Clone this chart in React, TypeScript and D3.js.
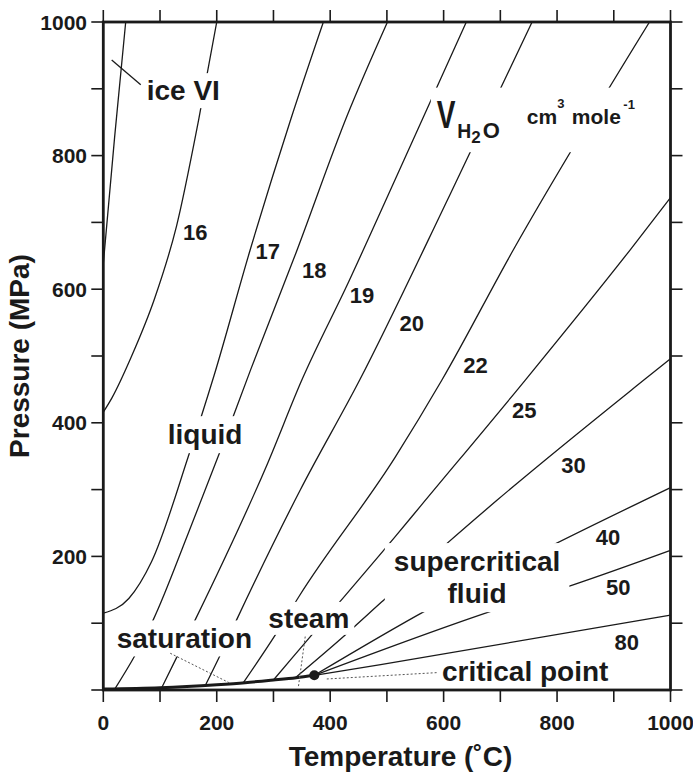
import { useEffect, useRef } from "react";
import * as d3 from "d3";

const W = 693;
const H = 773;
const FONT = "'Liberation Sans', Arial, Helvetica, sans-serif";
const INK = "#1a1a1a";

// all points are [temperature °C, pressure MPa]
const saturation = [[0, 1.5], [100, 3.5], [200, 8], [250, 11], [300, 15], [340, 18.5], [372, 22]];
const criticalPoint = [372, 22];
const iceVI = [[0, 638], [20, 828], [39.5, 1000]];

const iso16 = [[0, 416], [15, 437], [50, 500], [90, 585], [129, 694], [168, 853], [200, 1000]];
const iso17 = [[0, 115], [45, 137], [85, 192], [150, 350], [195, 470], [259, 659], [330, 853], [388, 1000]];
const iso18 = [[21, 2.5], [56, 52], [88, 105], [150, 235], [205, 355], [260, 480], [340, 655], [430, 860], [501, 1000]];
const iso19 = [[103, 3.5], [130, 50], [162, 105], [290, 340], [350, 464], [432, 610], [515, 765], [640, 1000]];
const iso20 = [[180, 7], [206, 52], [235, 105], [347, 299], [452, 464], [612, 743], [756, 1000]];
const iso22 = [[247, 11], [303, 82], [345, 140], [515, 349], [597, 464], [723, 659], [963, 1000]];
const iso25 = [[300, 15], [365, 80], [418, 133], [515, 230], [560, 276], [744, 464], [929, 659], [1000, 737]];
const iso30 = [[338, 18], [426, 82], [491, 132], [600, 215], [694, 284], [953, 464], [1000, 496]];
const iso40 = [[372, 22], [571, 120], [788, 215], [1000, 303]];
const iso50 = [[372, 22], [691, 120], [827, 157], [1000, 209]];
const iso80 = [[372, 22], [489, 38], [1000, 112]];

const isoNames = ["16", "17", "18", "19", "20", "22", "25", "30", "40", "50", "80"];
const isoLabelPos = [[162, 686], [290, 657], [372, 629], [456, 591], [544, 549], [656, 487], [742, 419], [829, 337], [890, 229], [908, 154], [923, 72]];

const iceLeader = [[14.8, 943], [66, 906]];
const satLeader = [[118, 55], [224, 10]];
const steamLeader = [[356, 80], [344, 5]];
const cpLeader = [[394, 16.5], [588, 26]];

const ticks = d3.range(0, 1001, 100);
const xTickLabels = [0, 200, 400, 600, 800, 1000];
const yTickLabels = [200, 400, 600, 800, 1000];

export default function App() {
  const ref = useRef<SVGSVGElement>(null);

  useEffect(() => {
    const el = ref.current!;
    const svg = d3.select(el);
    svg.selectAll("*").remove();

    const x = d3.scaleLinear().domain([0, 1000]).range([103.3, 670.5]);
    const y = d3.scaleLinear().domain([0, 1000]).range([690, 22]);

    svg.append("clipPath").attr("id", "plotclip")
      .append("rect")
      .attr("x", x(0)).attr("y", y(1000))
      .attr("width", x(1000) - x(0)).attr("height", y(0) - y(1000));

    const line = d3.line<number[]>()
      .x((d) => x(d[0]))
      .y((d) => y(d[1]))
      .curve(d3.curveMonotoneX);
    const straight = d3.line<number[]>().x((d) => x(d[0])).y((d) => y(d[1]));

    const gLines = svg.append("g").attr("clip-path", "url(#plotclip)");
    const isos = [iso16, iso17, iso18, iso19, iso20, iso22, iso25, iso30, iso40, iso50, iso80];
    [iceVI, ...isos].forEach((pts) => {
      gLines.append("path")
        .attr("d", line(pts))
        .attr("fill", "none")
        .attr("stroke", INK)
        .attr("stroke-width", 1.3);
    });

    const gKnock = svg.append("g");

    // saturation curve, critical point, leaders
    const gMarks = svg.append("g");
    gMarks.append("path")
      .attr("d", line(saturation))
      .attr("fill", "none")
      .attr("stroke", INK)
      .attr("stroke-width", 3);
    gMarks.append("circle")
      .attr("cx", x(criticalPoint[0])).attr("cy", y(criticalPoint[1]))
      .attr("r", 5).attr("fill", INK);
    gMarks.append("path")
      .attr("d", straight(iceLeader))
      .attr("stroke", INK).attr("stroke-width", 1.3).attr("fill", "none");
    [satLeader, steamLeader, cpLeader].forEach((pts) => {
      gMarks.append("path")
        .attr("d", straight(pts))
        .attr("stroke", "#555")
        .attr("stroke-width", 1)
        .attr("stroke-dasharray", "2,2")
        .attr("fill", "none");
    });

    // frame and ticks
    const gAxis = svg.append("g").attr("stroke", INK);
    const T = 12;
    ticks.forEach((t) => {
      gAxis.append("line").attr("x1", x(t)).attr("x2", x(t)).attr("y1", y(0)).attr("y2", y(0) + T).attr("stroke-width", 1.6);
      gAxis.append("line").attr("x1", x(t)).attr("x2", x(t)).attr("y1", y(1000)).attr("y2", y(1000) - T).attr("stroke-width", 1.6);
      gAxis.append("line").attr("y1", y(t)).attr("y2", y(t)).attr("x1", x(0)).attr("x2", x(0) - T).attr("stroke-width", 1.6);
      gAxis.append("line").attr("y1", y(t)).attr("y2", y(t)).attr("x1", x(1000)).attr("x2", x(1000) + T).attr("stroke-width", 1.6);
    });
    gAxis.append("rect")
      .attr("x", x(0)).attr("y", y(1000))
      .attr("width", x(1000) - x(0)).attr("height", y(0) - y(1000))
      .attr("fill", "none").attr("stroke-width", 2.8);

    const gText = svg.append("g")
      .attr("font-family", FONT)
      .attr("font-weight", "bold")
      .attr("fill", INK);

    const addText = (s: string, px: number, py: number, size: number, anchor = "start") =>
      gText.append("text")
        .attr("x", px).attr("y", py)
        .attr("font-size", size)
        .attr("text-anchor", anchor)
        .text(s);

    xTickLabels.forEach((t) => addText(String(t), x(t), 730, 21, "middle"));
    yTickLabels.forEach((t) => addText(String(t), 87, y(t) + 7.5, 21, "end"));

    addText("Temperature (˚C)", 400.5, 766, 28, "middle");
    addText("Pressure (MPa)", 0, 0, 28, "middle")
      .attr("x", null).attr("y", null)
      .attr("transform", "translate(29,356) rotate(-90)");

    isoNames.forEach((n, i) => {
      const [t, p] = isoLabelPos[i];
      addText(n, x(t), y(p) + 8, 22, "middle");
    });

    const knock = (nodes: any[], padX: number, padY: number) => {
      const sb = el.getBoundingClientRect();
      let x0 = Infinity, y0 = Infinity, x1 = -Infinity, y1 = -Infinity;
      nodes.forEach((n) => {
        const b = n.node().getBoundingClientRect();
        x0 = Math.min(x0, b.left - sb.left);
        y0 = Math.min(y0, b.top - sb.top);
        x1 = Math.max(x1, b.right - sb.left);
        y1 = Math.max(y1, b.bottom - sb.top);
      });
      gKnock.append("rect")
        .attr("x", x0 - padX).attr("y", y0 - padY)
        .attr("width", x1 - x0 + 2 * padX).attr("height", y1 - y0 + 2 * padY)
        .attr("fill", "white");
    };

    knock([addText("ice VI", x(76.5), y(883), 28)], 3, 2);
    knock([addText("liquid", x(113.6), y(368), 28)], 3, 3);
    knock([addText("saturation", x(23.6), y(63), 28)], 3, 2.5);
    knock([addText("steam", x(291), y(93), 28)], 5, 1);
    knock([
      addText("supercritical", x(659), y(178), 28, "middle"),
      addText("fluid", x(659), y(130), 28, "middle"),
    ], 9, 3);
    addText("critical point", x(597), y(13.5), 28);

    // molar volume label: condensed V, subscript H2O, units
    const vx = x(588);
    const vy = y(841);
    const vText = gText.append("text")
      .attr("transform", `translate(${vx},${vy}) scale(0.72,1)`)
      .attr("font-size", 39)
      .text("V");
    const sub = gText.append("text").attr("x", vx + 20.5).attr("y", vy + 10).attr("font-size", 21);
    sub.append("tspan").attr("textLength", 14).attr("lengthAdjust", "spacingAndGlyphs").text("H");
    sub.append("tspan").attr("x", vx + 34.5).attr("y", vy + 15).attr("font-size", 17).text("2");
    sub.append("tspan").attr("x", vx + 46).attr("y", vy + 10).attr("font-size", 22).text("O");

    const unit = gText.append("text").attr("x", vx + 90).attr("y", vy - 4).attr("font-size", 21);
    unit.append("tspan").text("cm");
    unit.append("tspan").attr("x", vx + 120.5).attr("y", vy - 20).attr("font-size", 13).text("3");
    unit.append("tspan").attr("x", vx + 135).attr("y", vy - 4).text("mole");
    unit.append("tspan").attr("x", vx + 186.5).attr("y", vy - 19).attr("font-size", 13).text("-1");

    knock([vText, sub, unit], 6, 5);
  }, []);

  return (
    <svg
      ref={ref}
      width={W}
      height={H}
      style={{ position: "absolute", left: 0, top: 0, background: "white" }}
    />
  );
}
